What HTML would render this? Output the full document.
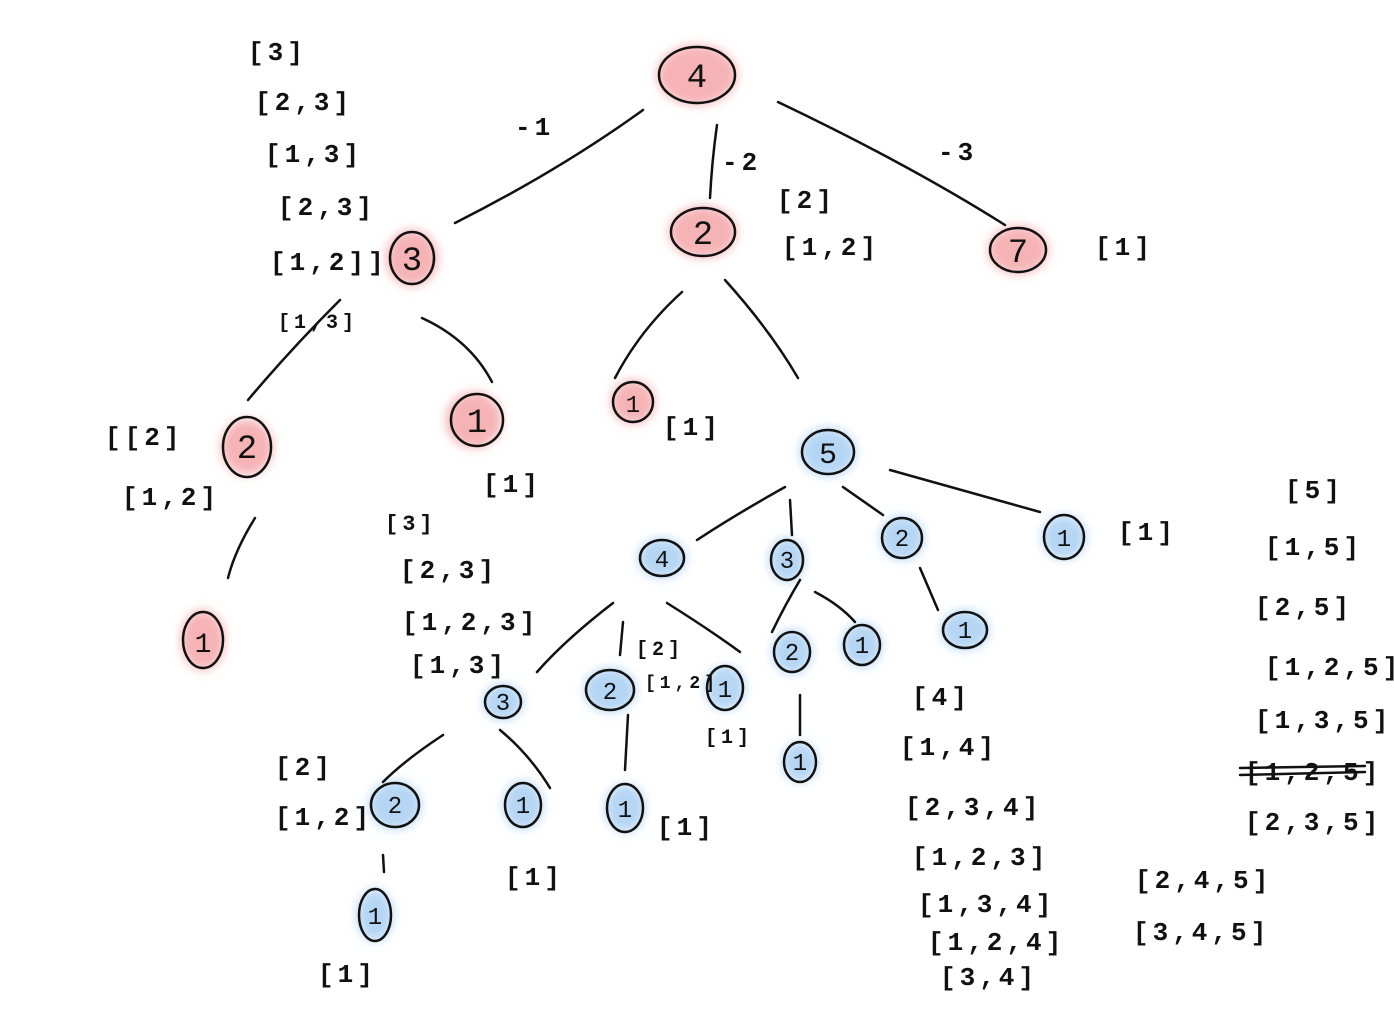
<!DOCTYPE html>
<html><head><meta charset="utf-8"><style>
html,body{margin:0;padding:0;background:#fff;}
svg{display:block}
text{font-family:"Liberation Mono",monospace;fill:#111;}
.l text{letter-spacing:4px;font-weight:bold;}
</style></head><body>
<svg width="1394" height="1009" viewBox="0 0 1394 1009" xmlns="http://www.w3.org/2000/svg">
<defs>
<filter id="b" x="-50%" y="-50%" width="200%" height="200%"><feGaussianBlur stdDeviation="5"/></filter>
</defs>
<g fill="#f6b3b6" filter="url(#b)">
<ellipse cx="697" cy="75" rx="40" ry="30"/>
<ellipse cx="412" cy="258" rx="26" ry="28"/>
<ellipse cx="703" cy="232" rx="34" ry="26"/>
<ellipse cx="1018" cy="250" rx="30" ry="24"/>
<ellipse cx="247" cy="447" rx="26" ry="28"/>
<ellipse cx="474" cy="420" rx="28" ry="28"/>
<ellipse cx="633" cy="402" rx="22" ry="22"/>
<ellipse cx="203" cy="640" rx="22" ry="30"/>
</g>
<g fill="#b5d5f4" filter="url(#b)">
<ellipse cx="828" cy="452" rx="28" ry="24"/>
<ellipse cx="662" cy="558" rx="24" ry="20"/>
<ellipse cx="787" cy="560" rx="18" ry="22"/>
<ellipse cx="902" cy="538" rx="22" ry="22"/>
<ellipse cx="1064" cy="537" rx="22" ry="22"/>
<ellipse cx="503" cy="702" rx="20" ry="18"/>
<ellipse cx="610" cy="690" rx="26" ry="22"/>
<ellipse cx="725" cy="688" rx="20" ry="22"/>
<ellipse cx="792" cy="652" rx="20" ry="22"/>
<ellipse cx="862" cy="645" rx="20" ry="22"/>
<ellipse cx="965" cy="630" rx="24" ry="20"/>
<ellipse cx="800" cy="762" rx="18" ry="20"/>
<ellipse cx="395" cy="805" rx="26" ry="24"/>
<ellipse cx="523" cy="805" rx="20" ry="24"/>
<ellipse cx="625" cy="808" rx="20" ry="24"/>
<ellipse cx="375" cy="915" rx="18" ry="26"/>
</g>
<g fill="none" stroke="#111" stroke-width="2.5" stroke-linecap="round">
<ellipse cx="697" cy="75" rx="38" ry="28"/>
<ellipse cx="412" cy="258" rx="22" ry="26"/>
<ellipse cx="703" cy="232" rx="32" ry="24"/>
<ellipse cx="1018" cy="250" rx="28" ry="22"/>
<ellipse cx="247" cy="447" rx="24" ry="30"/>
<ellipse cx="477" cy="420" rx="26" ry="26"/>
<ellipse cx="633" cy="402" rx="20" ry="20"/>
<ellipse cx="203" cy="640" rx="20" ry="28"/>
<ellipse cx="828" cy="452" rx="26" ry="22"/>
<ellipse cx="662" cy="558" rx="22" ry="18"/>
<ellipse cx="787" cy="560" rx="16" ry="20"/>
<ellipse cx="902" cy="538" rx="20" ry="20"/>
<ellipse cx="1064" cy="537" rx="20" ry="22"/>
<ellipse cx="503" cy="702" rx="18" ry="16"/>
<ellipse cx="610" cy="690" rx="24" ry="20"/>
<ellipse cx="725" cy="688" rx="18" ry="22"/>
<ellipse cx="792" cy="652" rx="18" ry="20"/>
<ellipse cx="862" cy="645" rx="18" ry="20"/>
<ellipse cx="965" cy="630" rx="22" ry="18"/>
<ellipse cx="800" cy="762" rx="16" ry="20"/>
<ellipse cx="395" cy="805" rx="24" ry="22"/>
<ellipse cx="523" cy="805" rx="18" ry="22"/>
<ellipse cx="625" cy="808" rx="18" ry="24"/>
<ellipse cx="375" cy="915" rx="16" ry="26"/>
<path d="M643 110 Q560 170 455 223"/>
<path d="M717 125 Q712 160 710 198"/>
<path d="M778 102 Q910 165 1005 225"/>
<path d="M340 300 Q290 350 248 400"/>
<path d="M422 318 Q470 340 492 382"/>
<path d="M682 292 Q640 330 615 378"/>
<path d="M725 280 Q770 330 798 378"/>
<path d="M255 518 Q235 550 228 578"/>
<path d="M785 487 Q735 515 697 540"/>
<path d="M790 500 L792 535"/>
<path d="M843 487 L883 515"/>
<path d="M890 470 Q980 495 1040 512"/>
<path d="M613 603 Q565 640 537 672"/>
<path d="M623 622 L620 655"/>
<path d="M667 603 Q710 630 740 652"/>
<path d="M800 580 Q785 605 772 632"/>
<path d="M815 592 Q840 605 855 622"/>
<path d="M920 568 L938 610"/>
<path d="M800 695 L800 735"/>
<path d="M443 735 Q405 760 383 782"/>
<path d="M500 730 Q530 755 550 788"/>
<path d="M628 715 L625 770"/>
<path d="M383 855 L384 872"/>
<path d="M1240 775 L1365 772 M1240 768 L1365 766"/>
</g>
<g font-size="34" text-anchor="middle" fill="#111">
<text x="697" y="87">4</text><text x="412" y="270">3</text><text x="703" y="244">2</text><text x="1018" y="262">7</text>
<text x="247" y="458">2</text><text x="477" y="432">1</text><text x="633" y="412" font-size="24">1</text><text x="203" y="652" font-size="28">1</text>
<text x="828" y="463" font-size="30">5</text>
</g>
<g font-size="24" text-anchor="middle" fill="#111">
<text x="662" y="567">4</text><text x="787" y="568">3</text><text x="902" y="546">2</text><text x="1064" y="546">1</text>
<text x="503" y="710">3</text><text x="610" y="699">2</text><text x="725" y="697">1</text><text x="792" y="660">2</text><text x="862" y="653">1</text>
<text x="965" y="638">1</text><text x="800" y="770">1</text><text x="395" y="813">2</text><text x="523" y="813">1</text><text x="625" y="817">1</text><text x="375" y="924">1</text>
</g>
<g font-size="26" class="l">
<text x="515" y="135">-1</text><text x="722" y="170">-2</text><text x="938" y="160">-3</text>
<text x="248" y="60">[3]</text><text x="255" y="110">[2,3]</text><text x="265" y="162">[1,3]</text><text x="278" y="215">[2,3]</text>
<text x="270" y="270">[1,2]]</text><text x="278" y="328" font-size="20">[1,3]</text>
<text x="777" y="208">[2]</text><text x="782" y="255">[1,2]</text><text x="1095" y="255">[1]</text>
<text x="105" y="445">[[2]</text><text x="122" y="505">[1,2]</text><text x="483" y="492">[1]</text><text x="663" y="435">[1]</text>
<text x="385" y="530" font-size="22">[3]</text><text x="400" y="578">[2,3]</text><text x="402" y="630">[1,2,3]</text><text x="410" y="673">[1,3]</text>
<text x="636" y="655" font-size="20">[2]</text><text x="645" y="688" font-size="18">[1,2]</text><text x="705" y="743" font-size="20">[1]</text>
<text x="1118" y="540">[1]</text>
<text x="275" y="775">[2]</text><text x="275" y="825">[1,2]</text><text x="505" y="885">[1]</text><text x="657" y="835">[1]</text><text x="318" y="982">[1]</text>
<text x="912" y="705">[4]</text><text x="900" y="755">[1,4]</text><text x="905" y="815">[2,3,4]</text><text x="912" y="865">[1,2,3]</text>
<text x="918" y="912">[1,3,4]</text><text x="928" y="950">[1,2,4]</text><text x="940" y="985">[3,4]</text>
<text x="1285" y="498">[5]</text><text x="1265" y="555">[1,5]</text><text x="1255" y="615">[2,5]</text><text x="1265" y="675">[1,2,5]</text>
<text x="1255" y="728">[1,3,5]</text><text x="1245" y="780">[1,2,5]</text><text x="1245" y="830">[2,3,5]</text>
<text x="1135" y="888">[2,4,5]</text><text x="1133" y="940">[3,4,5]</text>
</g>
</svg>
</body></html>
